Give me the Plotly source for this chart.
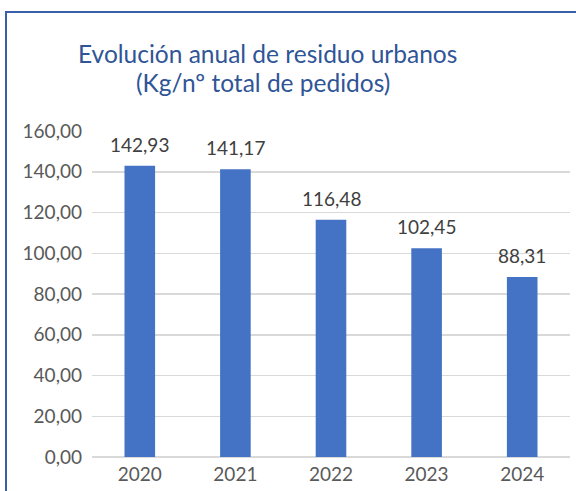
import plotly.graph_objects as go

years = ["2020", "2021", "2022", "2023", "2024"]
values = [142.93, 141.17, 116.48, 102.45, 88.31]
y_ticks = [0, 20, 40, 60, 80, 100, 120, 140, 160]
title_lines = ["Evolución anual de residuo urbanos", "(Kg/nº total de pedidos)"]

FONT = "Lato"
W, H = 576, 491
L, R, T, B = 92, 6, 131, 34
pw = W - L - R
ph = H - T - B
xpos = list(range(len(years)))


def px_x(px):
    return (px - L) / pw


def px_y(py):
    return (H - B - py) / ph


fig = go.Figure()
fig.add_trace(go.Bar(
    x=xpos, y=values,
    marker=dict(color="#4472C4", line=dict(width=0)),
    width=0.32,
    hoverinfo="skip",
))

for xi, v in zip(xpos, values):
    fig.add_annotation(
        x=xi, y=v, xref="x", yref="y",
        text=f"{v:.2f}".replace(".", ","),
        showarrow=False, yanchor="bottom", yshift=8,
        font=dict(family=FONT, size=19, color="#404040"),
    )

# title (two lines)
for (cx, cy), line in zip([(267, 53), (263, 83)], title_lines):
    fig.add_annotation(
        x=px_x(cx), y=px_y(cy), xref="paper", yref="paper",
        text=line, showarrow=False,
        xanchor="center", yanchor="middle",
        font=dict(family=FONT, size=24.5, color="#2F5597"),
    )

# chart border (partly outside the picture)
fig.add_shape(
    type="rect", xref="paper", yref="paper",
    x0=px_x(6), x1=1.2, y0=-0.3, y1=px_y(12),
    line=dict(color="#3A5FA8", width=2), layer="below",
)

fig.update_layout(
    width=W, height=H,
    margin=dict(l=L, r=R, t=T, b=B, pad=0),
    paper_bgcolor="white", plot_bgcolor="white",
    separators=",.",
    showlegend=False,
    font=dict(family=FONT, color="#595959", size=19),
)
fig.update_xaxes(
    range=[-0.5, len(years) - 0.5],
    tickvals=xpos, ticktext=years,
    showgrid=False, showline=False, ticks="", zeroline=False,
    tickfont=dict(family=FONT, size=19, color="#595959"),
    ticklabelstandoff=4,
)
fig.update_yaxes(
    range=[0, 160], tickvals=y_ticks, tickformat=".2f",
    showgrid=True, gridcolor="#D9D9D9", gridwidth=1.5,
    zeroline=True, zerolinecolor="#D9D9D9", zerolinewidth=1.5,
    showline=False, ticks="",
    tickfont=dict(family=FONT, size=19, color="#595959"),
    ticklabelstandoff=9,
)

fig.write_html(
    "out.html",
    config={"displayModeBar": False, "staticPlot": True},
    post_script="document.body.style.margin='0';document.body.style.overflow='hidden';",
)
